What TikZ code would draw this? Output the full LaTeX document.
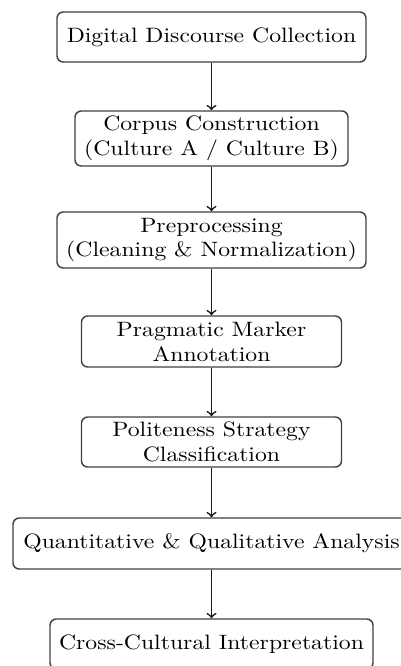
\documentclass[tikz,border=0pt]{standalone}
\usepackage{fontspec}
\setmainfont{Latin Modern Roman}[FakeStretch=1.14]
\newdimen\pxu
\pxu=0.4808pt
\tikzset{
  flowbox/.style={draw=black!75, line width=0.7pt, rounded corners=3pt, align=center,
    inner sep=0pt, font=\normalsize},
  flowarrow/.style={->, draw=black!90, line width=0.8pt}
}
\begin{document}
\begin{tikzpicture}[x=\pxu, y=-\pxu]
\useasboundingbox (0,0) rectangle (401,666);
\clip (0,0) rectangle (401,666);
\node[flowbox, minimum width=309\pxu, minimum height=50\pxu] (n1) at (211.5,37) {Digital Discourse Collection};
\node[flowbox, minimum width=273\pxu, minimum height=55\pxu] (n2) at (211.5,138.5) {Corpus Construction\\(Culture A / Culture B)};
\node[flowbox, minimum width=309\pxu, minimum height=56\pxu] (n3) at (211.5,240) {Preprocessing\\(Cleaning \& Normalization)};
\node[flowbox, minimum width=260\pxu, minimum height=51\pxu] (n4) at (211.5,341.5) {Pragmatic Marker\\Annotation};
\node[flowbox, minimum width=260\pxu, minimum height=50\pxu] (n5) at (211.5,442) {Politeness Strategy\\Classification};
\node[flowbox, minimum width=397\pxu, minimum height=51\pxu] (n6) at (211.5,543.5) {Quantitative \& Qualitative Analysis};
\node[flowbox, minimum width=323\pxu, minimum height=50\pxu] (n7) at (211.5,644) {Cross-Cultural Interpretation};
\draw[flowarrow] (n1) -- (n2);
\draw[flowarrow] (n2) -- (n3);
\draw[flowarrow] (n3) -- (n4);
\draw[flowarrow] (n4) -- (n5);
\draw[flowarrow] (n5) -- (n6);
\draw[flowarrow] (n6) -- (n7);
\end{tikzpicture}
\end{document}
